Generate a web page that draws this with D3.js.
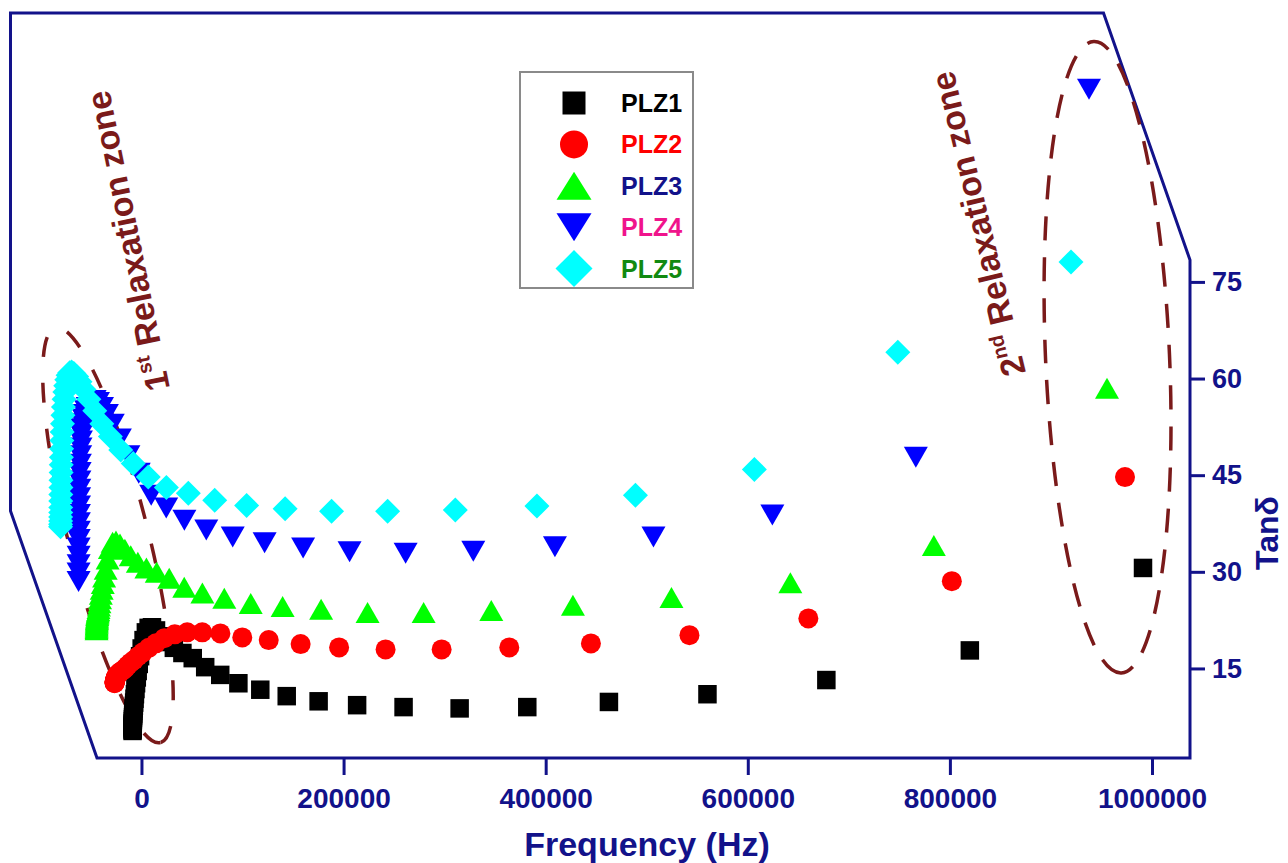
<!DOCTYPE html>
<html>
<head>
<meta charset="utf-8">
<script src="https://cdn.jsdelivr.net/npm/d3@7"></script>
<style>
  body { margin: 0; background: #ffffff; }
  svg { display: block; }
  text { font-family: "Liberation Sans", Arial, Helvetica, sans-serif; font-weight: bold; }
</style>
</head>
<body>
<svg id="chart" width="1288" height="863"></svg>
<script>
// Frequency sweep (Hz), shared by every sample
const frequency = [100, 120.7, 145.7, 175.8, 212.1, 256.0, 308.9, 372.8, 449.9, 542.9,
  655.1, 790.6, 954.1, 1151.4, 1389.5, 1676.9, 2023.7, 2442.2, 2947.2, 3556.7,
  4292.2, 5179.8, 6250.9, 7543.5, 9103.5, 10986, 13258, 16000, 19308, 23301,
  28120, 33935, 40952, 49421, 59640, 71973, 86857, 104817, 126491, 152648,
  184215, 222310, 268281, 323756, 390705, 471500, 568995, 686654, 828645, 1000000];

// Loss tangent of each sample at those frequencies
const tanDeltaPLZ1 = [5.3, 5.5, 5.7, 5.9, 6.1, 6.3, 6.5, 6.8, 7.1, 7.4,
  7.7, 8.0, 8.4, 8.8, 9.2, 9.7, 10.3, 11.0, 11.8, 12.7,
  13.6, 14.6, 15.7, 16.9, 18.1, 19.4, 20.6, 21.3, 21.4, 20.9,
  20.0, 19.1, 18.2, 17.4, 16.6, 15.2, 14.0, 12.7, 11.7, 10.7,
  9.9, 9.3, 9.0, 8.8, 9.0, 9.8, 11.0, 13.2, 17.8, 30.6];
const tanDeltaPLZ2 = [12.7, 12.75, 12.8, 12.85, 12.9, 12.95, 13.0, 13.05, 13.1, 13.15,
  13.2, 13.3, 13.4, 13.5, 13.6, 13.7, 13.8, 13.9, 14.0, 14.1,
  14.2, 14.35, 14.5, 14.65, 14.8, 15.1, 15.5, 15.9, 16.3, 16.9,
  17.5, 18.2, 18.9, 19.7, 20.3, 20.6, 20.6, 20.44, 19.82, 19.4,
  18.78, 18.27, 17.96, 17.96, 18.27, 18.89, 20.17, 22.77, 28.55, 44.7];
const tanDeltaPLZ3 = [21.0, 21.2, 21.4, 21.6, 21.8, 22.0, 22.2, 22.4, 22.6, 22.8,
  23.0, 23.2, 23.4, 23.6, 23.8, 24.0, 24.3, 24.7, 25.2, 25.8,
  26.5, 27.3, 28.2, 29.2, 30.4, 32.0, 33.6, 34.6, 34.8, 34.3,
  33.5, 32.5, 31.5, 30.6, 29.95, 29.0, 27.6, 26.7, 25.9, 25.1,
  24.6, 24.2, 23.7, 23.7, 24.0, 24.8, 26.0, 28.3, 34.1, 58.5];
const tanDeltaPLZ4 = [28.5, 29.8, 31.1, 32.4, 33.7, 35.0, 36.3, 37.6, 38.9, 40.2,
  41.5, 42.8, 44.1, 45.4, 46.7, 48.0, 49.2, 50.3, 51.3, 52.2,
  53.0, 53.7, 54.4, 55.0, 55.5, 56.0, 56.4, 56.6, 56.3, 55.5,
  54.4, 52.9, 50.6, 48.0, 45.3, 41.9, 39.9, 38.0, 36.5, 35.4,
  34.5, 33.7, 33.1, 32.9, 33.2, 33.9, 35.4, 38.8, 47.8, 104.9];
const tanDeltaPLZ5 = [37.0, 37.4, 37.9, 38.5, 39.2, 40.0, 41.0, 42.0, 43.1, 44.2,
  45.4, 46.6, 47.8, 49.1, 50.4, 51.7, 53.0, 54.3, 55.6, 56.8,
  57.9, 58.9, 59.8, 60.5, 60.9, 61.0, 60.8, 60.3, 59.5, 58.3,
  56.8, 55.0, 53.0, 51.0, 48.9, 46.8, 44.7, 43.1, 42.2, 41.1,
  40.3, 39.8, 39.4, 39.4, 39.6, 40.2, 41.9, 45.9, 64.1, 78.1];

const seriesNames = ["PLZ1", "PLZ2", "PLZ3", "PLZ4", "PLZ5"];
const xTicks = [0, 200000, 400000, 600000, 800000, 1000000];
const yTicks = [15, 30, 45, 60, 75];

// ---- styling ----
const NAVY = "#12128a";
const MAROON = "#7a1a1a";
const markerFill = ["#000000", "#ff0000", "#00ff00", "#0000ff", "#00ffff"];
const labelColor = ["#000000", "#ff0000", "#12128a", "#f0148c", "#118a11"];
const markerShape = ["square", "circle", "triangle", "triangleDown", "diamond"];
const dataSize = { square: [18.5, 18.5], circle: [20, 20], triangle: [24, 21], triangleDown: [24, 21], diamond: [25, 25] };
const legendSize = { square: [23, 23], circle: [28, 28], triangle: [35, 28], triangleDown: [35, 28], diamond: [37, 37] };

// waterfall layout: each sample is staggered sideways, the box has an oblique depth edge
const FRONT_SHIFT = -9, DEPTH_STEP = 18;
const DEPTH = { dx: -86.5, dy: -247 };

const svg = d3.select("#chart");
const x = d3.scaleLinear().domain([-44000, 1037600]).range([97, 1190]);
const y = d3.scaleLinear().domain([1.1, 78.4]).range([758, 260]);

function markerPath(shape, w, h) {
  const a = w / 2, b = h / 2;
  switch (shape) {
    case "square": return `M${-a},${-b}H${a}V${b}H${-a}Z`;
    case "circle": return `M${-a},0A${a},${b} 0 1,0 ${a},0A${a},${b} 0 1,0 ${-a},0Z`;
    case "triangle": return `M0,${-b}L${a},${b}L${-a},${b}Z`;
    case "triangleDown": return `M0,${b}L${a},${-b}L${-a},${-b}Z`;
    case "diamond": return `M0,${-b}L${a},0L0,${b}L${-a},0Z`;
  }
}

// ---- frame (oblique box) ----
const [x0, x1] = x.range();
const [y0, yT] = y.range();
const frame = [[x0, y0], [x1, y0], [x1, yT], [x1 + DEPTH.dx, yT + DEPTH.dy],
  [x0 + DEPTH.dx, yT + DEPTH.dy], [x0 + DEPTH.dx, y0 + DEPTH.dy]];
svg.append("path")
  .attr("d", d3.line()(frame) + "Z")
  .attr("fill", "none").attr("stroke", NAVY).attr("stroke-width", 3)
  .attr("stroke-linejoin", "miter");

// ---- axes ----
const xAxis = svg.append("g").attr("transform", `translate(0,${y0})`)
  .call(d3.axisBottom(x).tickValues(xTicks).tickSize(17).tickPadding(13).tickFormat(d3.format("d")));
const yAxis = svg.append("g").attr("transform", `translate(${x1},0)`)
  .call(d3.axisRight(y).tickValues(yTicks).tickSize(15).tickPadding(7).tickFormat(d3.format("d")));
[xAxis, yAxis].forEach(g => {
  g.select(".domain").remove();
  g.selectAll(".tick line").attr("stroke", NAVY).attr("stroke-width", 3);
  g.selectAll(".tick text").attr("fill", NAVY).style("font-size", "28px").style("font-weight", "bold")
    .style("font-family", '"Liberation Sans", Arial, sans-serif');
});
yAxis.selectAll(".tick text").style("font-size", "27px");

svg.append("text").attr("x", 647).attr("y", 856).attr("text-anchor", "middle")
  .attr("fill", NAVY).style("font-size", "34px").text("Frequency (Hz)");
svg.append("text").attr("transform", "translate(1278,533) rotate(-90)").attr("text-anchor", "middle")
  .attr("fill", NAVY).style("font-size", "32px").text("Tanδ");

// ---- relaxation zone annotations ----
const zones = [
  { f: -33150, v: 35.7, rx: 214, ry: 40, angle: 75.8, dash: "20 26",
    labelF: 28200, labelV: 58.5, labelAngle: -101.5, num: "1", sup: "st" },
  { f: 956000, v: 63.3, rx: 316, ry: 62, angle: 87.5, dash: "24 17",
    labelF: 875300, labelV: 60.9, labelAngle: -103.5, num: "2", sup: "nd" }
];
zones.forEach(z => {
  svg.append("ellipse")
    .attr("transform", `translate(${x(z.f)},${y(z.v)}) rotate(${z.angle})`)
    .attr("rx", z.rx).attr("ry", z.ry)
    .attr("fill", "none").attr("stroke", MAROON).attr("stroke-width", 3.5)
    .attr("stroke-dasharray", z.dash);
});

// ---- data ----
const allSeries = [tanDeltaPLZ1, tanDeltaPLZ2, tanDeltaPLZ3, tanDeltaPLZ4, tanDeltaPLZ5];
allSeries.forEach((vals, i) => {
  const shape = markerShape[i];
  const [w, h] = dataSize[shape];
  const g = svg.append("g").attr("transform", `translate(${FRONT_SHIFT - DEPTH_STEP * i},0)`);
  g.selectAll("path").data(frequency.map((f, k) => [f, vals[k]])).join("path")
    .attr("d", markerPath(shape, w, h))
    .attr("transform", d => `translate(${x(d[0])},${y(d[1])})`)
    .attr("fill", markerFill[i]);
});

zones.forEach(z => {
  const t = svg.append("text")
    .attr("transform", `translate(${x(z.labelF)},${y(z.labelV)}) rotate(${z.labelAngle})`)
    .attr("fill", MAROON).style("font-size", "34px");
  t.append("tspan").text(z.num);
  t.append("tspan").attr("dy", -14).style("font-size", "20px").text(z.sup);
  t.append("tspan").attr("dy", 14).text(" Relaxation zone");
});

// ---- legend ----
const legend = svg.append("g");
legend.append("rect").attr("x", 520).attr("y", 72).attr("width", 173).attr("height", 216)
  .attr("fill", "#ffffff").attr("stroke", "#8a8a8a").attr("stroke-width", 2);
seriesNames.forEach((name, i) => {
  const cy = 103 + i * 41.4;
  const shape = markerShape[i];
  const [w, h] = legendSize[shape];
  legend.append("path").attr("d", markerPath(shape, w, h))
    .attr("transform", `translate(574,${cy})`).attr("fill", markerFill[i]);
  legend.append("text").attr("x", 621).attr("y", cy + 9)
    .attr("fill", labelColor[i]).style("font-size", "25px").text(name);
});
</script>
</body>
</html>
